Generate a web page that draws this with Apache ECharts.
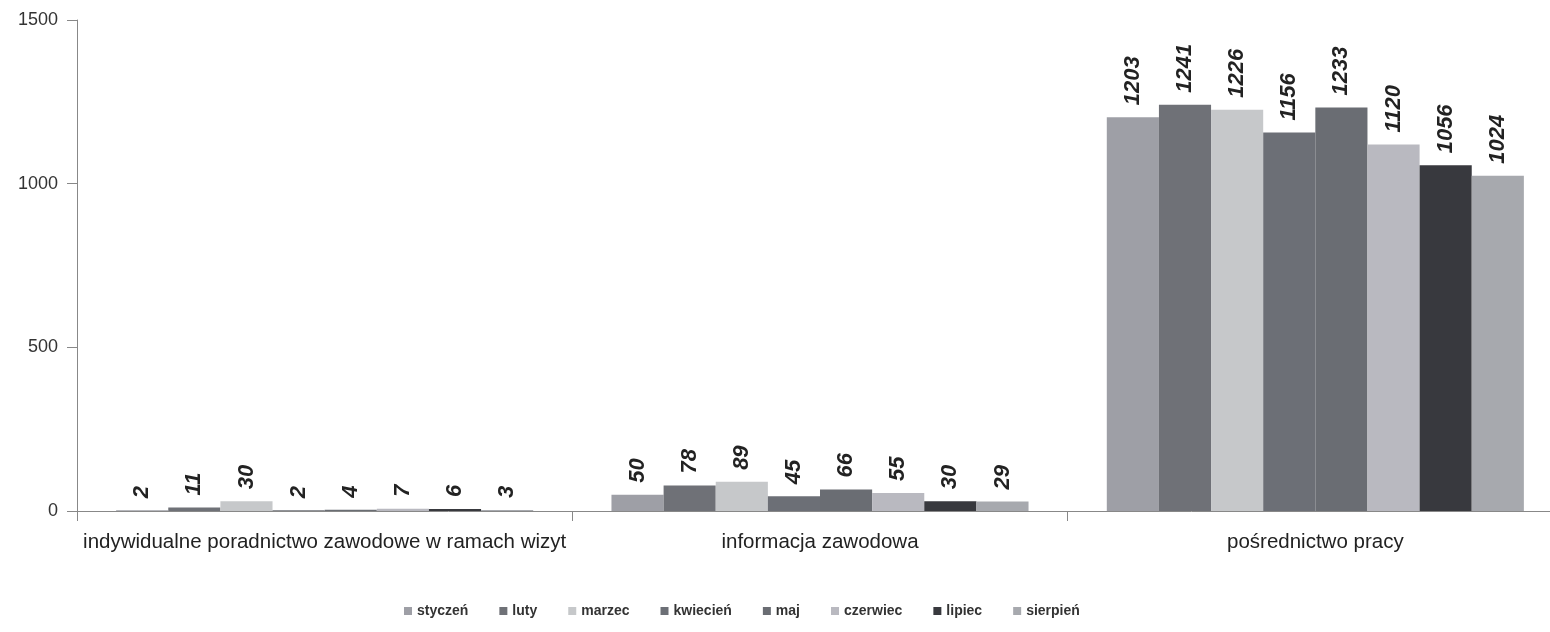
<!DOCTYPE html>
<html>
<head>
<meta charset="utf-8">
<script src="https://cdn.jsdelivr.net/npm/echarts@6/dist/echarts.min.js"></script>
<style>html,body{margin:0;padding:0;background:#fff;overflow:hidden;width:1550px;height:632px}#c{width:1563px;height:632px}</style>
</head>
<body>
<div id="c"></div>
<script>
const categories = ['indywidualne poradnictwo zawodowe w ramach wizyt', 'informacja zawodowa', 'pośrednictwo pracy'];
const months = ['styczeń', 'luty', 'marzec', 'kwiecień', 'maj', 'czerwiec', 'lipiec', 'sierpień'];
const styczen = [2, 50, 1203];
const luty = [11, 78, 1241];
const marzec = [30, 89, 1226];
const kwiecien = [2, 45, 1156];
const maj = [4, 66, 1233];
const czerwiec = [7, 55, 1120];
const lipiec = [6, 30, 1056];
const sierpien = [3, 29, 1024];
const yTicks = [0, 500, 1000, 1500];

const seriesData = [styczen, luty, marzec, kwiecien, maj, czerwiec, lipiec, sierpien];
const colors = ['#9e9fa6', '#6f7177', '#c6c8ca', '#6c6f76', '#6a6d73', '#b9b9c0', '#38393e', '#a7a9ae'];

const chart = echarts.init(document.getElementById('c'));
chart.setOption({
  animation: false,
  backgroundColor: '#fff',
  color: colors,
  grid: { left: 77, right: 0, top: 20, bottom: 121, containLabel: false },
  legend: {
    bottom: 9,
    left: 399,
    itemWidth: 8,
    itemHeight: 8,
    itemGap: 31,
    icon: 'rect',
    textStyle: { fontFamily: 'Liberation Sans, Arial, sans-serif', fontSize: 14, fontWeight: 'bold', color: '#333' },
    data: months
  },
  xAxis: {
    type: 'category',
    data: categories,
    axisLine: { lineStyle: { color: '#888', width: 1 } },
    axisTick: { show: true, length: 10, interval: 0, lineStyle: { color: '#888' } },
    axisLabel: { interval: 0, fontFamily: 'Liberation Sans, Arial, sans-serif', fontSize: 20.5, color: '#222', margin: 21 }
  },
  yAxis: {
    type: 'value',
    min: 0,
    max: 1500,
    interval: 500,
    axisLine: { show: true, lineStyle: { color: '#888', width: 1 } },
    axisTick: { show: true, length: 10, lineStyle: { color: '#888' } },
    splitLine: { show: false },
    axisLabel: {
      fontFamily: 'Liberation Sans, Arial, sans-serif', fontSize: 18, color: '#333', margin: 19,
      formatter: v => yTicks.includes(v) ? String(v) : ''
    }
  },
  series: months.map((m, i) => ({
    name: m,
    type: 'bar',
    data: seriesData[i],
    barGap: '0%',
    barCategoryGap: '15.8%',
    itemStyle: { color: colors[i] },
    label: {
      show: true,
      position: 'top',
      rotate: 90,
      align: 'left',
      verticalAlign: 'middle',
      distance: 12,
      fontFamily: 'Liberation Sans, Arial, sans-serif',
      fontSize: 22,
      fontWeight: 'bold',
      fontStyle: 'italic',
      color: '#222'
    }
  }))
});
</script>
</body>
</html>
